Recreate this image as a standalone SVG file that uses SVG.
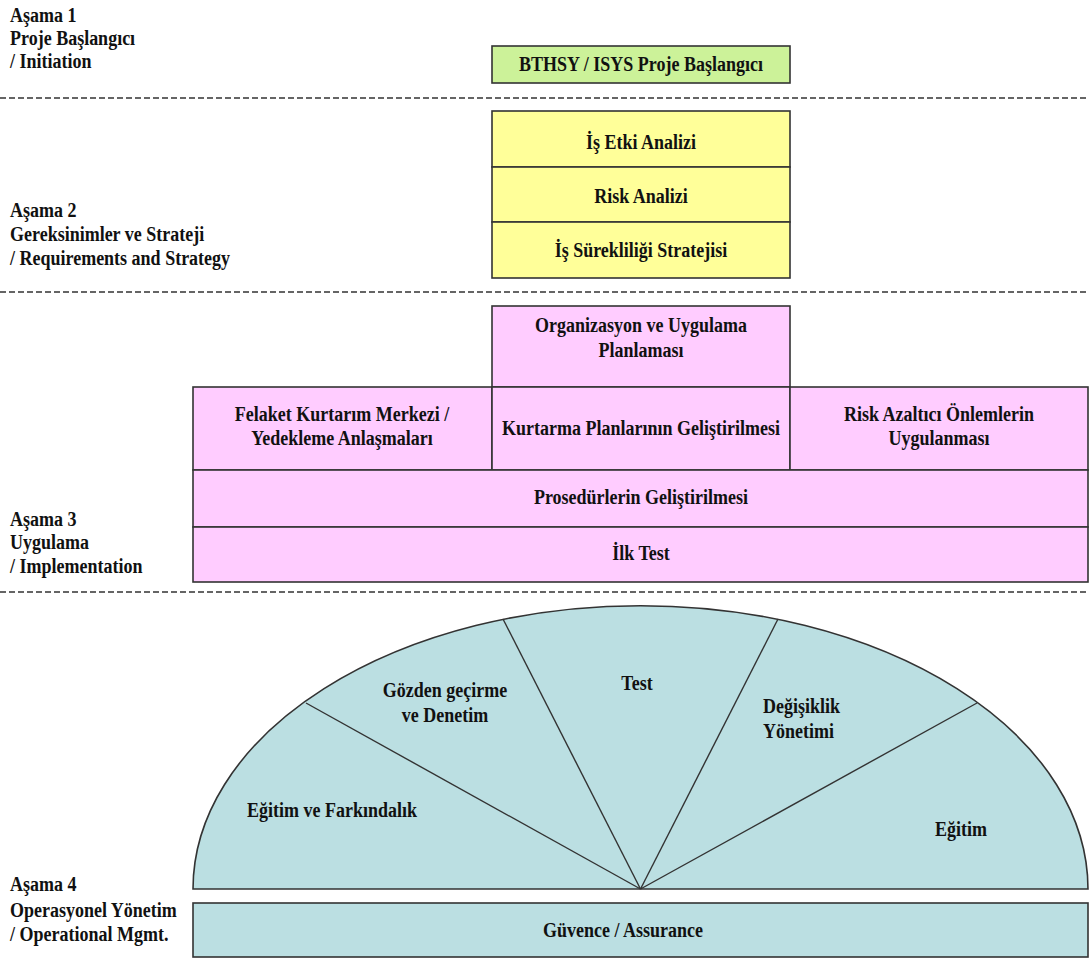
<svg xmlns="http://www.w3.org/2000/svg" width="1089" height="962" viewBox="0 0 1089 962">
<style>
text{font-family:'Liberation Serif','DejaVu Serif',serif;font-weight:bold;font-size:18px;fill:#111}
.c{text-anchor:middle}
.box{stroke:#333;stroke-width:1.6}
.g{fill:#ccf299}.y{fill:#ffff99}.p{fill:#ffccff}.b{fill:#bbdfe2}
.dash{stroke:#333;stroke-width:1.3;stroke-dasharray:6 3;fill:none}
.sp{stroke:#333;stroke-width:1.4;fill:none}
</style>
<rect width="1089" height="962" fill="#fff"/>
<g id="separators">
<line class="dash" x1="0" y1="98" x2="1089" y2="98"/>
<line class="dash" x1="0" y1="292" x2="1089" y2="292"/>
<line class="dash" x1="0" y1="592" x2="1089" y2="592"/>
</g>
<g id="stage1-label"><text transform="translate(10 22) scale(1 1.2)">Aşama 1</text><text transform="translate(10 45) scale(1 1.2)">Proje Başlangıcı</text><text transform="translate(10 68) scale(1 1.2)">/ Initiation</text></g>
<g id="stage2-label"><text transform="translate(10 217) scale(1 1.2)">Aşama 2</text><text transform="translate(10 241) scale(1 1.2)">Gereksinimler ve Strateji</text><text transform="translate(10 265) scale(1 1.2)">/ Requirements and Strategy</text></g>
<g id="stage3-label"><text transform="translate(10 526) scale(1 1.2)">Aşama 3</text><text transform="translate(10 549) scale(1 1.2)">Uygulama</text><text transform="translate(10 573) scale(1 1.2)">/ Implementation</text></g>
<g id="stage4-label"><text transform="translate(10 891) scale(1 1.2)">Aşama 4</text><text transform="translate(10 917) scale(1 1.2)">Operasyonel Yönetim</text><text transform="translate(10 941) scale(1 1.2)">/ Operational Mgmt.</text></g>
<g id="initiation"><rect class="box g" x="492" y="46" width="298" height="37"/><text class="c" transform="translate(641 71) scale(1 1.2)">BTHSY / ISYS Proje Başlangıcı</text></g>
<g id="bia"><rect class="box y" x="492" y="111" width="298" height="56"/><text class="c" transform="translate(641 149) scale(1 1.2)">İş Etki Analizi</text></g>
<g id="risk"><rect class="box y" x="492" y="167" width="298" height="55"/><text class="c" transform="translate(641 203) scale(1 1.2)">Risk Analizi</text></g>
<g id="strategy"><rect class="box y" x="492" y="222" width="298" height="56"/><text class="c" transform="translate(641 257) scale(1 1.2)">İş Sürekliliği Stratejisi</text></g>
<g id="org"><rect class="box p" x="492" y="306" width="298" height="81"/><text class="c" transform="translate(641 332) scale(1 1.2)">Organizasyon ve Uygulama</text><text class="c" transform="translate(641 357) scale(1 1.2)">Planlaması</text></g>
<g id="drc"><rect class="box p" x="193" y="387" width="299" height="83"/><text class="c" transform="translate(342 421) scale(1 1.2)">Felaket Kurtarım Merkezi /</text><text class="c" transform="translate(342 445) scale(1 1.2)">Yedekleme Anlaşmaları</text></g>
<g id="plans"><rect class="box p" x="492" y="387" width="298" height="83"/><text class="c" transform="translate(641 435) scale(1 1.2)">Kurtarma Planlarının Geliştirilmesi</text></g>
<g id="mitigation"><rect class="box p" x="790" y="387" width="298" height="83"/><text class="c" transform="translate(939 421) scale(1 1.2)">Risk Azaltıcı Önlemlerin</text><text class="c" transform="translate(939 445) scale(1 1.2)">Uygulanması</text></g>
<g id="procedures"><rect class="box p" x="193" y="470" width="895" height="57"/><text class="c" transform="translate(641 504) scale(1 1.2)">Prosedürlerin Geliştirilmesi</text></g>
<g id="firsttest"><rect class="box p" x="193" y="527" width="895" height="55"/><text class="c" transform="translate(641 560) scale(1 1.2)">İlk Test</text></g>
<g id="operations">
<path class="box b" d="M193,889 A447,283 0 0 1 1088,889 Z"/>
<line class="sp" x1="640.5" y1="889" x2="306" y2="703"/>
<line class="sp" x1="640.5" y1="889" x2="503" y2="619"/>
<line class="sp" x1="640.5" y1="889" x2="778" y2="619"/>
<line class="sp" x1="640.5" y1="889" x2="977" y2="703"/>
<text transform="translate(247 817) scale(1 1.2)">Eğitim ve Farkındalık</text>
<text class="c" transform="translate(445 697) scale(1 1.2)">Gözden geçirme</text><text class="c" transform="translate(445 722) scale(1 1.2)">ve Denetim</text>
<text class="c" transform="translate(637 690) scale(1 1.2)">Test</text>
<text transform="translate(763 713) scale(1 1.2)">Değişiklik</text><text transform="translate(763 738) scale(1 1.2)">Yönetimi</text>
<text transform="translate(935 836) scale(1 1.2)">Eğitim</text>
</g>
<g id="assurance"><rect class="box b" x="193" y="903" width="895" height="54"/><text class="c" transform="translate(623 937) scale(1 1.2)">Güvence / Assurance</text></g>
</svg>
